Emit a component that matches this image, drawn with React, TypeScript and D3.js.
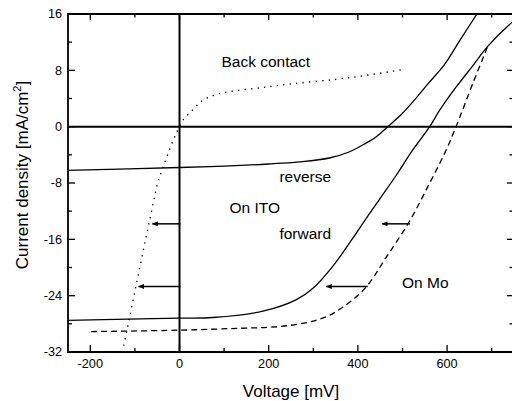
import * as d3 from 'd3';

// Back contact (dotted)
const backV = [-128, -102, -76, -58, -49, -37, -22, -7, 7.5, 30, 49, 75, 105, 179, 254, 348, 420, 500];
const backJ = [-32, -24, -16, -10.6, -8, -5.8, -3.2, -0.9, 0.9, 2.4, 3.6, 4.4, 4.9, 5.5, 6.1, 6.7, 7.3, 8.1];

// On ITO, reverse (solid)
const revV = [-250, 0, 100, 200, 269, 336, 380, 419, 440, 467, 500, 527, 556, 594, 630, 667];
const revJ = [-6.2, -5.8, -5.6, -5.3, -5.0, -4.45, -3.6, -2.3, -1.5, 0, 1.9, 3.8, 6.0, 8.8, 12.4, 16];

// On ITO, forward (solid)
const fwdV = [-250, 0, 75, 187, 261, 300, 344, 389, 421, 452, 486, 523, 561, 583, 620, 657, 691, 740, 750];
const fwdJ = [-27.5, -27.2, -27.1, -26.2, -24.6, -22.9, -19.8, -15.8, -12.8, -10.0, -6.9, -3.3, 0, 2.3, 5.6, 8.6, 11.4, 14.5, 15.0];

// On Mo (dashed)
const moV = [-198, 0, 150, 200, 250, 300, 336, 360, 390, 422, 463, 516, 561, 598, 620, 658, 691];
const moJ = [-29.1, -28.9, -28.6, -28.5, -28.2, -27.6, -26.8, -25.9, -24.5, -22.5, -18.6, -13.4, -8.0, -3.3, 0, 6.2, 11.4];

// arrows: [from V, to V, J]
const arrows = [
  [2, -63, -13.8],
  [2, -94, -22.7],
  [517, 452, -13.8],
  [422, 327, -22.7],
];

const notes = [
  { text: 'Back contact', v: 94, j: 8.5 },
  { text: 'reverse', v: 224, j: -7.9 },
  { text: 'On ITO', v: 112, j: -12.2 },
  { text: 'forward', v: 224, j: -16.0 },
  { text: 'On Mo', v: 499, j: -22.9 },
];

const xMajor = [-200, 0, 200, 400, 600];
const xMinor = [-100, 100, 300, 500, 700];
const yMajor = [-32, -24, -16, -8, 0, 8, 16];
const yMinor = [-28, -20, -12, -4, 4, 12];

const W = 512, H = 401;
const L = 68, R = 514, T = 14, B = 352;
const FONT = 'Liberation Sans, Arial, sans-serif';

export default function App() {
  const x = d3.scaleLinear().domain([-250, 750]).range([L, R]);
  const y = d3.scaleLinear().domain([-32, 16]).range([B, T]);

  const line = d3
    .line<[number, number]>()
    .x((d) => x(d[0]))
    .y((d) => y(d[1]))
    .curve(d3.curveCatmullRom.alpha(0.5));

  const zip = (vs: number[], js: number[]) => vs.map((v, i) => [v, js[i]] as [number, number]);

  return (
    <svg width={W} height={H} style={{ position: 'absolute', left: 0, top: 0, background: '#fff' }}>
      <defs>
        <clipPath id="plot">
          <rect x={L} y={T} width={R - L} height={B - T} />
        </clipPath>
        <marker id="head" viewBox="0 0 10 10" refX="9" refY="5" markerWidth="5" markerHeight="4" orient="auto" markerUnits="strokeWidth">
          <path d="M0,1 L10,5 L0,9 z" fill="#000" />
        </marker>
      </defs>

      {/* zero lines */}
      <line x1={L} x2={R} y1={y(0)} y2={y(0)} stroke="#000" strokeWidth={2} />
      <line x1={x(0)} x2={x(0)} y1={T} y2={B} stroke="#000" strokeWidth={2} />

      <g clipPath="url(#plot)" fill="none" stroke="#000">
        <path d={line(zip(backV, backJ)) ?? ''} strokeWidth={1.4} strokeDasharray="1.3 5.2" />
        <path d={line(zip(revV, revJ)) ?? ''} strokeWidth={1.3} />
        <path d={line(zip(fwdV, fwdJ)) ?? ''} strokeWidth={1.3} />
        <path d={line(zip(moV, moJ)) ?? ''} strokeWidth={1.3} strokeDasharray="6 4" />
      </g>

      {arrows.map((a, i) => (
        <line key={i} x1={x(a[0])} x2={x(a[1]) + 1} y1={y(a[2])} y2={y(a[2])} stroke="#000" strokeWidth={1.5} markerEnd="url(#head)" />
      ))}

      {notes.map((n) => (
        <text key={n.text} x={x(n.v)} y={y(n.j)} fontFamily={FONT} fontSize={15.5}>
          {n.text}
        </text>
      ))}

      {/* frame */}
      <path d={`M${R},${T}H${L}V${B}H${R}`} fill="none" stroke="#000" strokeWidth={1.8} />

      {/* ticks */}
      <g stroke="#000" strokeWidth={1.3}>
        {xMajor.map((v) => (
          <g key={'xM' + v}>
            <line x1={x(v)} x2={x(v)} y1={B} y2={B - 7} />
            <line x1={x(v)} x2={x(v)} y1={T} y2={T + 6} />
          </g>
        ))}
        {xMinor.map((v) => (
          <g key={'xm' + v}>
            <line x1={x(v)} x2={x(v)} y1={B} y2={B - 4} />
            <line x1={x(v)} x2={x(v)} y1={T} y2={T + 3.5} />
          </g>
        ))}
        {yMajor.map((v) => (
          <g key={'yM' + v}>
            <line x1={L} x2={L + 7} y1={y(v)} y2={y(v)} />
            <line x1={R} x2={R - 7} y1={y(v)} y2={y(v)} />
          </g>
        ))}
        {yMinor.map((v) => (
          <g key={'ym' + v}>
            <line x1={L} x2={L + 4} y1={y(v)} y2={y(v)} />
            <line x1={R} x2={R - 4.5} y1={y(v)} y2={y(v)} />
          </g>
        ))}
      </g>

      {/* tick labels */}
      {xMajor.map((v) => (
        <text key={'xl' + v} x={x(v)} y={B + 16} textAnchor="middle" fontFamily={FONT} fontSize={12.7}>
          {v}
        </text>
      ))}
      {yMajor.map((v) => (
        <text key={'yl' + v} x={L - 6} y={y(v)} dy="0.35em" textAnchor="end" fontFamily={FONT} fontSize={12.7}>
          {v}
        </text>
      ))}

      {/* axis titles */}
      <text x={(L + R) / 2} y={397} textAnchor="middle" fontFamily={FONT} fontSize={17}>
        Voltage [mV]
      </text>
      <text transform="translate(28,175) rotate(-90)" textAnchor="middle" fontFamily={FONT} fontSize={17}>
        Current density [mA/cm
        <tspan fontSize={11} dy={-7}>2</tspan>
        <tspan dy={7}>]</tspan>
      </text>
    </svg>
  );
}
